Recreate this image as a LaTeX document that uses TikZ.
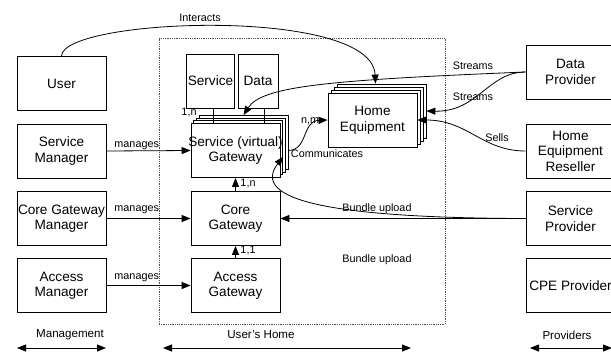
\documentclass[tikz,border=0pt]{standalone}
\usepackage{fontspec}
\setmainfont{Liberation Sans}
\usetikzlibrary{arrows.meta,calc}
\begin{document}
\begin{tikzpicture}[x=1pt,y=-1pt,
  box/.style={draw, fill=white, line width=0.8pt, minimum width=89pt, minimum height=54pt, inner sep=1pt, align=center, font=\fontsize{13.6}{15.5}\selectfont},
  sbox/.style={box, minimum width=40pt},
  lbl/.style={font=\fontsize{10.8}{12}\selectfont, inner sep=1pt},
  blbl/.style={font=\fontsize{11.6}{13}\selectfont, inner sep=1pt},
  arr/.style={line width=0.8pt, -{Triangle[length=9pt,width=7pt]}},
  darr/.style={line width=0.8pt, {Triangle[length=9pt,width=7pt]}-{Triangle[length=9pt,width=7pt]}},
  ln/.style={line width=0.8pt},
]
\useasboundingbox (0,0) rectangle (611,354);

% user's home frame
\node[draw=black!70, densely dotted, line width=0.8pt, minimum width=286pt, minimum height=286pt, inner sep=0pt] (home) at (302,181) {};

% left column
\node[box] (user) at (61.5,83.5) {User};
\node[box] (smgr) at (61.5,151) {Service\\Manager};
\node[box] (cgm) at (61.5,218.5) {Core Gateway\\Manager};
\node[box] (am) at (61.5,285.5) {Access\\Manager};

% service / data
\node[sbox] (service) at (210.5,81) {Service};
\node[sbox] (data) at (258,81) {Data};

% service gateway stack
\node[box] (sg3) at (243.5,142.5) {};
\node[box] (sg2) at (240.8,145.2) {};
\node[box] (sg1) at (238.2,147.8) {};
\node[box] (sg) at (235.5,150.5) {\makebox[0pt]{Service (virtual)}\\Gateway};

\node[box] (cg) at (235.5,218.5) {Core\\Gateway};
\node[box] (ag) at (235.5,285.5) {Access\\Gateway};

% home equipment stack
\node[box] (he3) at (381.5,111) {};
\node[box] (he2) at (378.5,114) {};
\node[box] (he1) at (375.5,117) {};
\node[box] (he) at (372.5,120) {Home\\Equipment};

% providers
\node[box] (dp) at (570.5,72) {Data\\Provider};
\node[box] (res) at (570.5,151) {Home\\Equipment\\Reseller};
\node[box] (sp) at (570.5,218.5) {Service\\Provider};
\node[box] (cpe) at (570.5,285.5) {CPE Provider};

% service/data to gateway
\draw[ln] ([xshift=3pt]service.south) -- ([xshift=3pt]service.south |- sg.north);
\draw[ln] ([xshift=6pt]data.south) -- ([xshift=6pt]data.south |- sg.north);
\node[lbl] (l1n) at (189,112) {1,n};

% manages
\draw[arr] (smgr.east) -- node[lbl, pos=0.36, above] (lm1) {manages} (sg.west);
\draw[arr] (cgm.east) -- node[lbl, pos=0.36, above=3pt] (lm2) {manages} (cg.west);
\draw[arr] (am.east) -- node[lbl, pos=0.36, above=2pt] (lm3) {manages} (ag.west);

% gateway hierarchy
\draw[arr] (cg.north) -- (sg.south);
\node[lbl] (l1n2) at (248,183) {1,n};
\draw[arr] (ag.north) -- (cg.south);
\node[lbl] (l11) at (248,250.5) {1,1};

% interacts
\draw[arr] (user.north) .. controls (62,18) and (372,6) .. ([xshift=-6pt]he3.north);
\node[lbl] (lint) at (200,18) {Interacts};

% streams
\draw[arr] (dp.west) .. controls (330,80) and (262,86) .. (sg3.north);
\node[lbl] (ls1) at (473,66) {Streams};
\draw[arr] (dp.west) .. controls (488,72) and (478,112) .. (he3.east);
\node[lbl] (ls2) at (473,97) {Streams};

% sells
\draw[arr] (res.west) .. controls (482,151) and (468,120) .. (he.east);
\node[lbl] (lsells) at (497,137.5) {Sells};

% communicates
\draw[arr] (sg.east -| sg3.east) .. controls (308,150) and (302,121) .. (he.west);
\node[lbl] (lnm) at (310,121) {n,m};
\node[lbl] (lcom) at (327,154) {Communicates};

% bundle upload
\draw[arr] (sp.west) -- (cg.east);
\draw[arr] (sp.west) .. controls (330,218) and (250,200) .. ([yshift=-9pt]sg1.east);
\node[lbl] (lb1) at (377,209) {Bundle upload};
\node[lbl] (lb2) at (377,260) {Bundle upload};

% bottom ranges
\coordinate (m1) at (17,348);
\coordinate (m2) at (106,348);
\coordinate (u1) at (163,348);
\coordinate (u2) at (411,348);
\coordinate (p1) at (530,348);
\coordinate (p2) at (612,348);
\draw[darr] (m1) -- (m2);
\draw[darr] (u1) -- (u2);
\draw[darr] (p1) -- (p2);
\node[blbl] (lman) at (70,335) {Management};
\node[blbl] (luh) at (261,335) {User's Home};
\node[blbl] (lprov) at (567,335) {Providers};
\end{tikzpicture}
\end{document}
